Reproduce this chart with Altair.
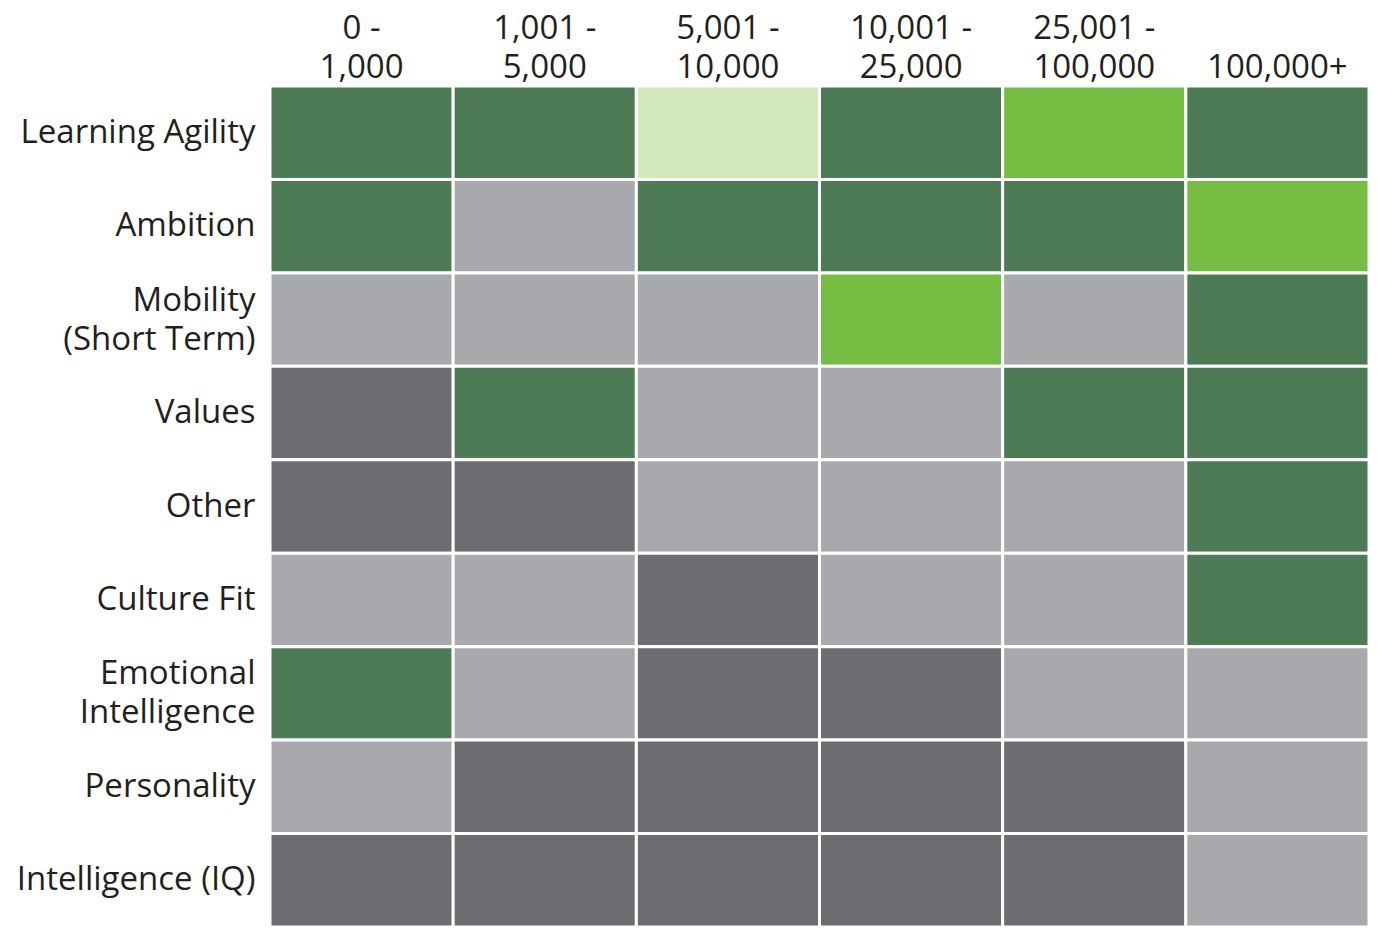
import altair as alt
import pandas as pd

columns = ["0 -|1,000", "1,001 -|5,000", "5,001 -|10,000", "10,001 -|25,000", "25,001 -|100,000", " |100,000+"]
rows = ["Learning Agility", "Ambition", "Mobility|(Short Term)", "Values", "Other",
        "Culture Fit", "Emotional|Intelligence", "Personality", "Intelligence (IQ)"]

levels = ["Top", "High", "Emerging", "Moderate", "Low"]
level_colors = ["#76bd43", "#4c7b55", "#d3e7bd", "#a8a9ad", "#6c6d71"]

grid = [
    ["High", "High", "Emerging", "High", "Top", "High"],
    ["High", "Moderate", "High", "High", "High", "Top"],
    ["Moderate", "Moderate", "Moderate", "Top", "Moderate", "High"],
    ["Low", "High", "Moderate", "Moderate", "High", "High"],
    ["Low", "Low", "Moderate", "Moderate", "Moderate", "High"],
    ["Moderate", "Moderate", "Low", "Moderate", "Moderate", "High"],
    ["High", "Moderate", "Low", "Low", "Moderate", "Moderate"],
    ["Moderate", "Low", "Low", "Low", "Low", "Moderate"],
    ["Low", "Low", "Low", "Low", "Low", "Moderate"],
]

records = []
for r, row in zip(rows, grid):
    for c, lv in zip(columns, row):
        records.append({"row": r, "col": c, "level": lv})
df = pd.DataFrame(records)

FONT = "Open Sans"
TEXT = "#231f20"
FS = 33
LH = 39

chart = alt.Chart(df).mark_rect(stroke="white", strokeWidth=3).encode(
    x=alt.X("col:N", sort=columns, title=None,
            axis=alt.Axis(orient="top", labelAngle=0, ticks=False, domain=False,
                          labelExpr="split(datum.label, '|')", labelFontSize=FS,
                          labelLineHeight=LH, labelPadding=74, labelColor=TEXT,
                          labelFont=FONT, labelBaseline="top")),
    y=alt.Y("row:N", sort=rows, title=None,
            axis=alt.Axis(ticks=False, domain=False,
                          labelExpr="split(datum.label, '|')", labelFontSize=FS,
                          labelLineHeight=LH, labelPadding=15, labelColor=TEXT,
                          labelFont=FONT, labelLimit=400,
                          labelOffset={"condition": {"test": "indexof(datum.label, '|') >= 0", "value": -19},
                                       "value": 0})),
    color=alt.Color("level:N", scale=alt.Scale(domain=levels, range=level_colors), legend=None),
).properties(
    width=1099, height=841,
    autosize=alt.AutoSizeParams(type="none"),
    padding={"left": 262, "top": 78, "right": 0, "bottom": 0},
).configure_view(stroke=None).configure_scale(bandPaddingInner=0, bandPaddingOuter=0)

chart.save("out.html", embed_options={"renderer": "svg", "actions": False})
